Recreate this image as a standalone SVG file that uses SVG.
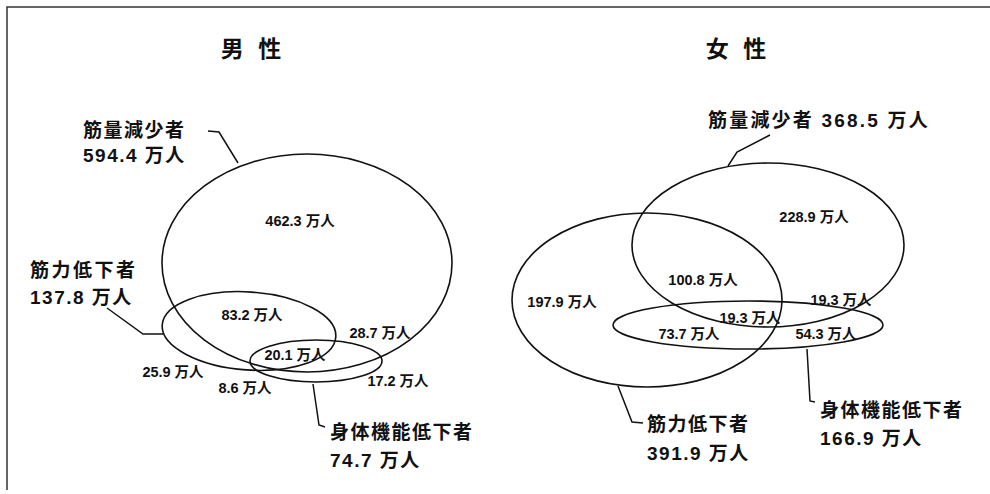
<svg xmlns="http://www.w3.org/2000/svg" width="990" height="494" viewBox="0 0 990 494">
<style>
  text { font-family: "Liberation Sans", "Noto Sans CJK JP", sans-serif; font-weight: bold; fill: #111; }
  .title { font-size: 23px; letter-spacing: 4px; text-anchor: middle; }
  .lbl { font-size: 19px; letter-spacing: 1.5px; }
  .val { font-size: 14.5px; text-anchor: middle; }
  .set { fill: none; stroke: #111; stroke-width: 1.6; }
  .lead { fill: none; stroke: #111; stroke-width: 1.5; }
  .frame { fill: none; stroke: #333; stroke-width: 1.5; }
</style>
<rect width="990" height="494" fill="#fff"/>
<path class="frame" d="M7,490 V7 H990"/>

<g id="male">
  <text class="title" x="253" y="57">男 性</text>
  <g id="m-sarco">
    <ellipse class="set" cx="307" cy="263" rx="145" ry="109"/>
    <text class="lbl" x="83" y="137">筋量減少者</text>
    <text class="lbl" x="83" y="162">594.4 万人</text>
  </g>
  <g id="m-strength">
    <ellipse class="set" cx="249" cy="331" rx="87" ry="39" transform="rotate(4 249 331)"/>
    <text class="lbl" x="30" y="277" style="letter-spacing:2.5px">筋力低下者</text>
    <text class="lbl" x="30" y="304">137.8 万人</text>
  </g>
  <g id="m-function">
    <ellipse class="set" cx="316" cy="361" rx="66" ry="21"/>
    <text class="lbl" x="330" y="439">身体機能低下者</text>
    <text class="lbl" x="330" y="467">74.7 万人</text>
  </g>
  <g id="m-values">
    <text class="val" x="300" y="226">462.3 万人</text>
    <text class="val" x="252" y="320">83.2 万人</text>
    <text class="val" x="380" y="338">28.7 万人</text>
    <text class="val" x="295" y="360">20.1 万人</text>
    <text class="val" x="173" y="377">25.9 万人</text>
    <text class="val" x="245" y="393">8.6 万人</text>
    <text class="val" x="398" y="386">17.2 万人</text>
  </g>
</g>

<g id="female">
  <text class="title" x="738" y="57">女 性</text>
  <g id="f-sarco">
    <ellipse class="set" cx="768" cy="245" rx="136" ry="82"/>
    <text class="lbl" x="708" y="127" style="letter-spacing:2.2px">筋量減少者 368.5 万人</text>
  </g>
  <g id="f-strength">
    <ellipse class="set" cx="647" cy="300" rx="135" ry="87"/>
    <text class="lbl" x="647" y="431">筋力低下者</text>
    <text class="lbl" x="647" y="460">391.9 万人</text>
  </g>
  <g id="f-function">
    <ellipse class="set" cx="748" cy="325" rx="135" ry="24"/>
    <text class="lbl" x="820" y="417">身体機能低下者</text>
    <text class="lbl" x="820" y="445">166.9 万人</text>
  </g>
  <g id="f-values">
    <text class="val" x="814" y="222">228.9 万人</text>
    <text class="val" x="703" y="285">100.8 万人</text>
    <text class="val" x="562" y="307">197.9 万人</text>
    <text class="val" x="841" y="305">19.3 万人</text>
    <text class="val" x="750" y="323">19.3 万人</text>
    <text class="val" x="689" y="339">73.7 万人</text>
    <text class="val" x="826" y="339">54.3 万人</text>
  </g>
</g>

<g id="connectors">
  <path class="lead" d="M208,131 L219,132 L238,163"/>
  <path class="lead" d="M107,308 L143,334 L163,334"/>
  <path class="lead" d="M313,384 L319,425 L325,427"/>
  <path class="lead" d="M770,135 L737,152 L728,166"/>
  <path class="lead" d="M618,386 L632,422 L643,423"/>
  <path class="lead" d="M807,349 L810,401 L815,402"/>
</g>
</svg>
